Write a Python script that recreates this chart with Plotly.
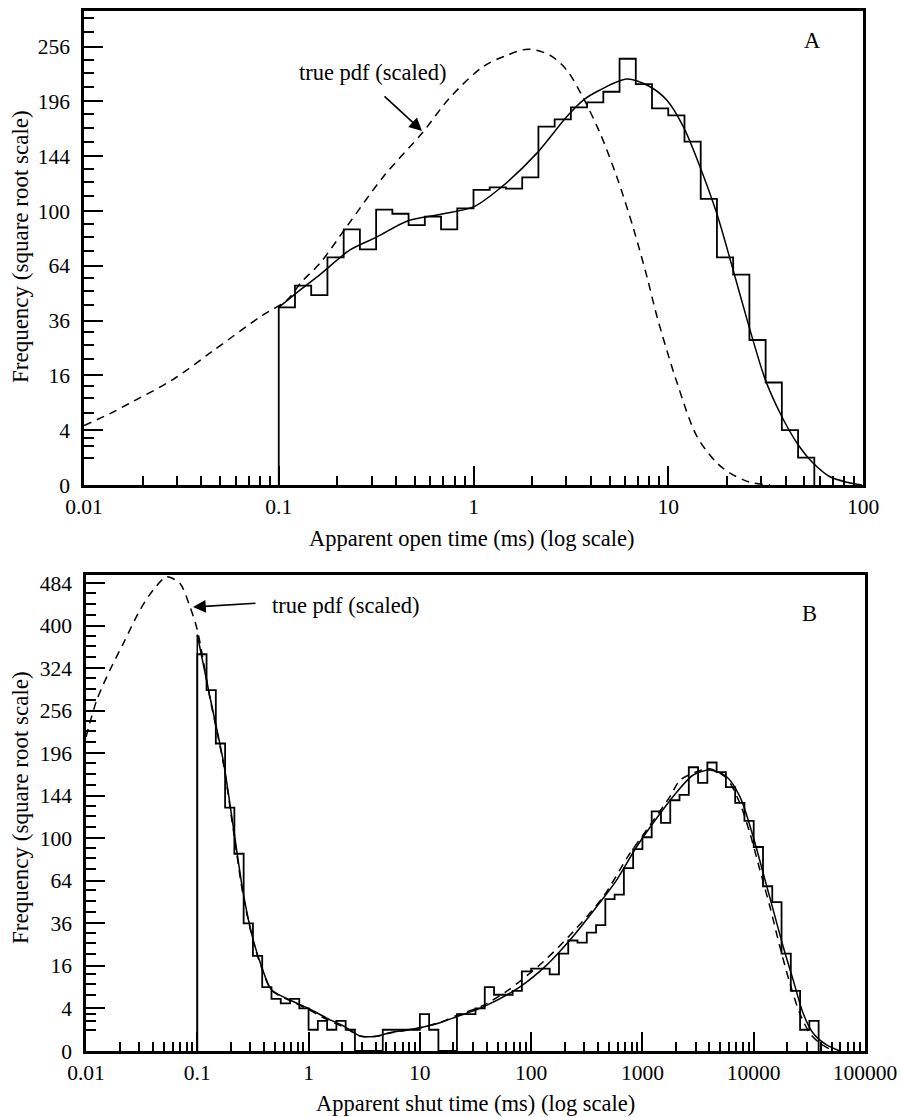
import numpy as np
import plotly.graph_objects as go

W, H = 901, 1117
FONT = "Liberation Serif"

# ---------------- Panel A: apparent open times ----------------
BINS_PER_DECADE = 12
A_FIRST_EDGE = 0.1
A_COUNTS = [42, 53, 48, 69, 87, 74, 101, 98, 90, 96, 87, 102, 116, 118, 117, 126,
            171, 178, 190, 195, 206, 242, 214, 189, 182, 157, 109, 69, 59, 28, 14, 4, 1]

A_FIT_X = [0.1, 0.1285, 0.1628, 0.2322, 0.3195, 0.461, 0.673, 1.0, 1.368, 2.111, 3.009,
           3.664, 4.463, 6.117, 8.058, 9.818, 11.95, 14.55, 17.74, 21.18, 25.67, 31.4,
           37.5, 45.8, 55.4, 67.7, 82.8, 98.8]
A_FIT_Y = [42, 50.6, 59, 73.6, 82, 93, 97.5, 103, 117.3, 146.5, 180.7,
           197.4, 207.8, 219.5, 211.3, 197.4, 171, 135, 98.3, 64.5, 35, 15,
           6.9, 2.35, 0.64, 0.09, 0.01, 0]

A_TRUE_X = [0.01, 0.0136, 0.01785, 0.0286, 0.046, 0.0801, 0.1103, 0.1312, 0.1628, 0.2233,
            0.3443, 0.5503, 0.7574, 1.119, 1.486, 1.905, 2.471, 3.02, 3.65, 4.463, 5.457,
            6.592, 7.779, 8.768, 11.1, 14.07, 17.82, 20.76, 26.29, 33.3]
A_TRUE_Y = [4.7, 6.8, 9.3, 14.8, 24.0, 37.6, 45.6, 55, 65.5, 88.9,
            126.6, 166, 200, 233, 246, 253, 246, 229, 200, 165, 126,
            88.7, 57.6, 37.6, 13.9, 3.1, 0.64, 0.19, 0.01, 0]

A_X_TICKS = [0.01, 0.1, 1, 10, 100]
A_Y_TICKS = [0, 4, 16, 36, 64, 100, 144, 196, 256]
A_ARROW_TIP = (0.544, 167)

# ---------------- Panel B: apparent shut times ----------------
B_FIRST_EDGE = 0.1
B_COUNTS = [348, 288, 209, 131, 86, 36, 20, 9, 6, 5, 6, 4, 1, 2, 1, 2, 1, 0, 0, 0,
            1, 1, 1, 1, 3, 1, 0, 0, 3, 3, 4, 9, 7, 7, 8, 14, 15, 15, 13, 21,
            27, 26, 31, 35, 51, 54, 74, 90, 101, 127, 115, 139, 145, 178, 159, 184, 172, 154,
            136, 117, 92, 60, 49, 21, 8, 1, 2]

B_FIT_X = [0.1, 0.13, 0.1713, 0.2107, 0.259, 0.3185, 0.379, 0.4662, 0.6807, 1.0, 1.454,
           2.123, 2.895, 4.09, 5.387, 9.36, 15.16, 21.41, 37.12, 79.3, 137.8, 223.2,
           387.7, 586.5, 887, 1341, 2029, 2860, 4041, 5710, 7516, 9897, 12170, 14970,
           18410, 22640, 27840, 34240, 45190, 59500]
B_FIT_Y = [383, 277, 186, 111, 55, 27.2, 15.7, 8.2, 5.75, 4.0, 2.4,
           1.3, 0.5, 0.48, 0.74, 1.14, 1.77, 2.6, 4.3, 9.1, 16.3, 27.2,
           46, 64.6, 92.2, 119.7, 148, 168.4, 174.5, 166.3, 143, 101.5, 69.8, 44,
           24, 11.1, 3.1, 0.69, 0.08, 0]

B_TRUE_X = [0.01, 0.01248, 0.01643, 0.02163, 0.03056, 0.04024, 0.0531, 0.06993, 0.086, 0.1,
            0.13, 0.1713, 0.2107, 0.259, 0.3185, 0.379, 0.4662, 0.6807, 1.0, 1.454, 2.123,
            2.895, 4.09, 5.387, 9.36, 15.16, 21.41, 37.12, 62.3, 128.5, 238.9, 444.4, 772,
            1091, 1767, 2172, 3069, 4041, 5710, 7516, 9246, 11370, 13990, 17190, 21150,
            26010, 31980, 39340, 51800]
B_TRUE_Y = [218, 272, 321, 367, 430, 470, 497, 483, 436, 392,
            275, 183, 108, 53, 26.5, 15.2, 8.1, 5.6, 3.8, 2.2, 1.2,
            0.5, 0.48, 0.72, 1.1, 1.8, 2.8, 4.6, 8.2, 17.6, 31.5, 52.6, 86.4,
            108, 143, 162, 172.4, 176, 164.4, 135.6, 104.8, 72.4, 46, 24, 10.1,
            3.1, 0.69, 0.13, 0]

B_X_TICKS = [0.01, 0.1, 1, 10, 100, 1000, 10000, 100000]
B_Y_TICKS = [0, 4, 16, 36, 64, 100, 144, 196, 256, 324, 400, 484]
B_ARROW_TIP = (0.0915, 435.6)

LABEL_TEXT = "true pdf (scaled)"
Y_TITLE = "Frequency (square root scale)"
A_X_TITLE = "Apparent open time (ms) (log scale)"
B_X_TITLE = "Apparent shut time (ms) (log scale)"


def hist_path(first_edge, counts):
    edges = [first_edge * 10 ** (k / BINS_PER_DECADE) for k in range(len(counts) + 1)]
    xs = [edges[0]] + edges[:-1] + [edges[-1]]
    ys = [0] + list(counts) + [0]
    return xs, np.sqrt(ys)


def minor_vals(ticks, top):
    ext = list(ticks) + [(np.sqrt(ticks[-1]) + 2) ** 2]
    out = []
    for a, b in zip(ext[:-1], ext[1:]):
        st = (b - a) / 4
        out += [a + st * i for i in (1, 2, 3)]
    return [float(np.sqrt(v)) for v in out if np.sqrt(v) < top]


def x_minors(ticks):
    out = []
    for d in ticks[:-1]:
        out += [d * m for m in range(2, 10)]
    return out


fig = go.Figure()

line_k = dict(color="black", width=1.8)
curve_k = dict(color="black", width=1.5)
dash_k = dict(color="black", width=1.5, dash="8px,6px")

# Panel A traces
hx, hy = hist_path(A_FIRST_EDGE, A_COUNTS)
fig.add_trace(go.Scatter(x=hx, y=hy, mode="lines", line=dict(shape="hv", **line_k),
                         xaxis="x", yaxis="y", showlegend=False))
fig.add_trace(go.Scatter(x=A_FIT_X, y=np.sqrt(A_FIT_Y), mode="lines",
                         line=dict(shape="spline", smoothing=0.8, **curve_k),
                         xaxis="x", yaxis="y", showlegend=False))
fig.add_trace(go.Scatter(x=A_TRUE_X, y=np.sqrt(A_TRUE_Y), mode="lines",
                         line=dict(shape="spline", smoothing=0.9, **dash_k),
                         xaxis="x", yaxis="y", showlegend=False))

# Panel B traces
hx, hy = hist_path(B_FIRST_EDGE, B_COUNTS)
fig.add_trace(go.Scatter(x=hx, y=hy, mode="lines", line=dict(shape="hv", **line_k),
                         xaxis="x2", yaxis="y2", showlegend=False))
fig.add_trace(go.Scatter(x=[B_FIT_X[0], B_FIT_X[0]], y=[0, np.sqrt(B_FIT_Y[0])], mode="lines",
                         line=curve_k, xaxis="x2", yaxis="y2", showlegend=False))
fig.add_trace(go.Scatter(x=B_FIT_X, y=np.sqrt(B_FIT_Y), mode="lines",
                         line=dict(shape="spline", smoothing=0.8, **curve_k),
                         xaxis="x2", yaxis="y2", showlegend=False))
fig.add_trace(go.Scatter(x=B_TRUE_X, y=np.sqrt(B_TRUE_Y), mode="lines",
                         line=dict(shape="spline", smoothing=0.8, **dash_k),
                         xaxis="x2", yaxis="y2", showlegend=False))

tickfont = dict(family=FONT, size=21.5, color="black")


def xaxis(ticks, domain, anchor):
    return dict(type="log", domain=domain, anchor=anchor,
                range=[np.log10(ticks[0]), np.log10(ticks[-1])],
                tickmode="array", tickvals=ticks, ticktext=[f"{t:g}" for t in ticks],
                ticks="inside", ticklen=19, tickwidth=1.8, tickcolor="black",
                minor=dict(tickmode="array", tickvals=x_minors(ticks), ticks="inside",
                           ticklen=9, tickwidth=1.6, tickcolor="black", showgrid=False),
                showline=True, linewidth=2.5, linecolor="black", mirror=True,
                showgrid=False, zeroline=False, tickfont=tickfont, automargin=False,
                ticklabelstandoff=0)


def yaxis(ticks, top, domain, anchor):
    return dict(domain=domain, anchor=anchor, range=[0, top],
                tickmode="array", tickvals=[float(v) for v in np.sqrt(ticks)],
                ticktext=[str(t) for t in ticks],
                ticks="inside", ticklen=19, tickwidth=1.8, tickcolor="black",
                minor=dict(tickmode="array", tickvals=minor_vals(ticks, top), ticks="inside",
                           ticklen=10, tickwidth=1.6, tickcolor="black", showgrid=False),
                showline=True, linewidth=2.5, linecolor="black", mirror=True,
                showgrid=False, zeroline=False, tickfont=tickfont, automargin=False,
                ticklabelstandoff=7)


def px_x(p):
    return p / W


def px_y(p):
    return 1 - p / H


layout = dict(
    width=W, height=H, margin=dict(l=0, r=0, t=0, b=0),
    paper_bgcolor="white", plot_bgcolor="white",
    xaxis=xaxis(A_X_TICKS, [px_x(84), px_x(863)], "y"),
    yaxis=yaxis(A_Y_TICKS, 17.3, [px_y(485), px_y(11)], "x"),
    xaxis2=xaxis(B_X_TICKS, [px_x(86), px_x(865)], "y2"),
    yaxis2=yaxis(B_Y_TICKS, 22.38, [px_y(1051), px_y(575)], "x2"),
)
fig.update_layout(**layout)

tfont = dict(family=FONT, size=22.5, color="black")
yfont = dict(family=FONT, size=23, color="black")
ann = [
    # axis titles
    dict(text=A_X_TITLE, x=px_x(472), y=px_y(538), xref="paper", yref="paper",
         showarrow=False, font=tfont, xanchor="center", yanchor="middle"),
    dict(text=B_X_TITLE, x=px_x(475), y=px_y(1103), xref="paper", yref="paper",
         showarrow=False, font=tfont, xanchor="center", yanchor="middle"),
    dict(text=Y_TITLE, x=px_x(20), y=px_y(247), xref="paper", yref="paper", textangle=-90,
         showarrow=False, font=yfont, xanchor="center", yanchor="middle"),
    dict(text=Y_TITLE, x=px_x(20), y=px_y(808), xref="paper", yref="paper", textangle=-90,
         showarrow=False, font=yfont, xanchor="center", yanchor="middle"),
    # panel letters
    dict(text="A", x=px_x(812), y=px_y(40), xref="paper", yref="paper",
         showarrow=False, font=tfont, xanchor="center", yanchor="middle"),
    dict(text="B", x=px_x(809), y=px_y(613), xref="paper", yref="paper",
         showarrow=False, font=tfont, xanchor="center", yanchor="middle"),
    # true pdf labels
    dict(text=LABEL_TEXT, x=px_x(372), y=px_y(73), xref="paper", yref="paper",
         showarrow=False, font=tfont, xanchor="center", yanchor="middle"),
    dict(text=LABEL_TEXT, x=px_x(270), y=px_y(605), xref="paper", yref="paper",
         showarrow=False, font=tfont, xanchor="left", yanchor="middle"),
    # arrows
    dict(text="", x=float(np.log10(A_ARROW_TIP[0])), y=float(np.sqrt(A_ARROW_TIP[1])),
         xref="x", yref="y",
         showarrow=True, ax=-39, ay=-36, arrowhead=2, arrowsize=1.6, arrowwidth=1.6,
         arrowcolor="black", standoff=0),
    dict(text="", x=float(np.log10(B_ARROW_TIP[0])), y=float(np.sqrt(B_ARROW_TIP[1])),
         xref="x2", yref="y2",
         showarrow=True, ax=64, ay=-4, arrowhead=2, arrowsize=1.6, arrowwidth=1.6,
         arrowcolor="black", standoff=0),
]
fig.update_layout(annotations=ann)

fig.write_html("out.html", config={"displayModeBar": False},
               post_script="document.body.style.margin='0px';document.body.style.padding='0px';")
